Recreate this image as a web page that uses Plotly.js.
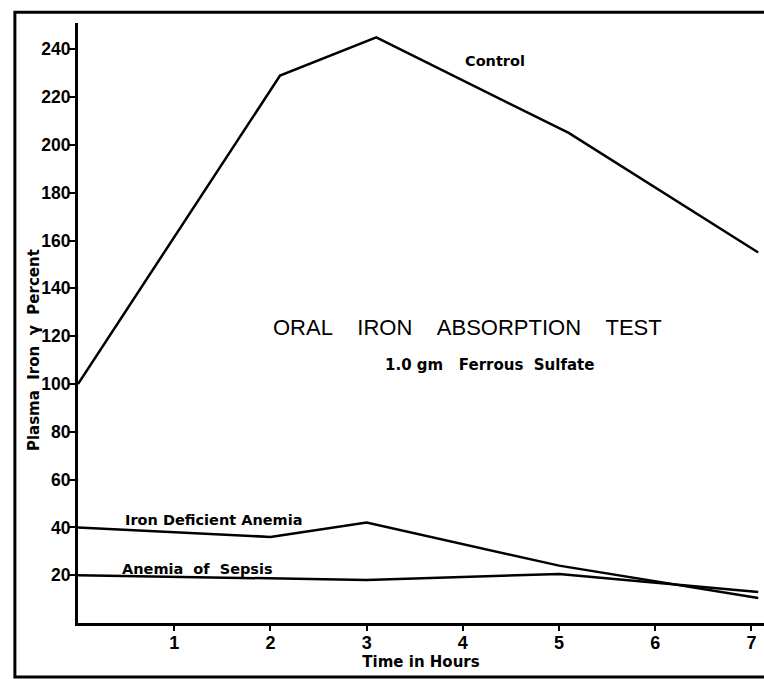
<!DOCTYPE html>
<html>
<head>
<meta charset="utf-8">
<script src="https://cdn.plot.ly/plotly-3.0.1.min.js"></script>
<style>
  html, body { margin: 0; padding: 0; background: #fff; }
  #plot { width: 764px; height: 679px; }
</style>
</head>
<body>
<div id="plot"></div>
<script>
// values
const controlHours = [0, 2.1, 3.1, 5.1, 7.07];
const controlIron = [100, 229, 245, 205, 155];

const deficientHours = [0, 2, 3, 5, 7.07];
const deficientIron = [40, 36, 42, 24, 10.5];

const sepsisHours = [0, 3, 5, 7.07];
const sepsisIron = [20, 18, 20.5, 13];

const xTicks = [1, 2, 3, 4, 5, 6, 7];
const yTicks = [20, 40, 60, 80, 100, 120, 140, 160, 180, 200, 220, 240];

const ink = '#000';
const nb = '\u00a0';
const boldFont = { family: 'DejaVu Sans', size: 14.5, color: ink, weight: 'bold' };

function series(x, y, name) {
  return {
    x: x, y: y, name: name,
    type: 'scatter', mode: 'lines',
    line: { color: ink, width: 2.5 },
    hoverinfo: 'skip'
  };
}

const traces = [
  series(controlHours, controlIron, 'Control'),
  series(deficientHours, deficientIron, 'Iron Deficient Anemia'),
  series(sepsisHours, sepsisIron, 'Anemia of Sepsis')
];

const layout = {
  width: 764, height: 679,
  margin: { l: 78, r: 0, t: 23, b: 56 },
  paper_bgcolor: '#fff',
  plot_bgcolor: '#fff',
  showlegend: false,
  xaxis: {
    range: [0, 7.13],
    tickvals: xTicks,
    ticks: 'outside', ticklen: 5, tickwidth: 2, tickcolor: ink,
    ticklabelstandoff: -4,
    showline: true, linecolor: ink, linewidth: 3,
    showgrid: false, zeroline: false,
    tickfont: { family: 'Liberation Sans', size: 18, color: ink, weight: 'bold' },
    title: { text: 'Time in Hours', standoff: 0,
      font: { family: 'DejaVu Sans', size: 15, color: ink, weight: 'bold' } }
  },
  yaxis: {
    range: [0, 251],
    tickvals: yTicks,
    ticks: 'outside', ticklen: 6, tickwidth: 2, tickcolor: ink,
    ticklabelstandoff: -5,
    showline: true, linecolor: ink, linewidth: 3,
    showgrid: false, zeroline: false,
    tickfont: { family: 'Liberation Sans', size: 17.5, color: ink, weight: 'bold' }
  },
  annotations: [
    { xref: 'paper', yref: 'paper', x: -0.064, y: 0.455, textangle: -90,
      xanchor: 'center', yanchor: 'middle',
      text: 'Plasma' + nb + nb + 'Iron' + nb + nb + '\u03b3' + nb + nb + 'Percent',
      showarrow: false,
      font: { family: 'DejaVu Sans', size: 15, color: ink, weight: 'bold' } },
    { x: 4.33, y: 235, text: 'Control', showarrow: false, font: boldFont },
    { x: 4.05, y: 123.5,
      text: ['ORAL', 'IRON', 'ABSORPTION', 'TEST'].join(nb + nb + nb + nb),
      showarrow: false,
      font: { family: 'Liberation Sans', size: 22, color: ink } },
    { x: 4.28, y: 108, text: '1.0' + nb + 'gm' + nb + nb + nb + 'Ferrous' + nb + nb + 'Sulfate',
      showarrow: false, font: { family: 'DejaVu Sans', size: 15, color: ink, weight: 'bold' } },
    { x: 1.41, y: 43, text: 'Iron Deficient Anemia', showarrow: false, font: boldFont },
    { x: 1.24, y: 22.8, text: 'Anemia' + nb + nb + 'of' + nb + nb + 'Sepsis', showarrow: false, font: boldFont }
  ],
  shapes: [
    { type: 'rect', xref: 'paper', yref: 'paper',
      x0: -0.092, x1: 1.05, y0: -0.09, y1: 1.018,
      line: { color: ink, width: 3 } }
  ]
};

Plotly.newPlot('plot', traces, layout, { displayModeBar: false, staticPlot: true });
</script>
</body>
</html>
